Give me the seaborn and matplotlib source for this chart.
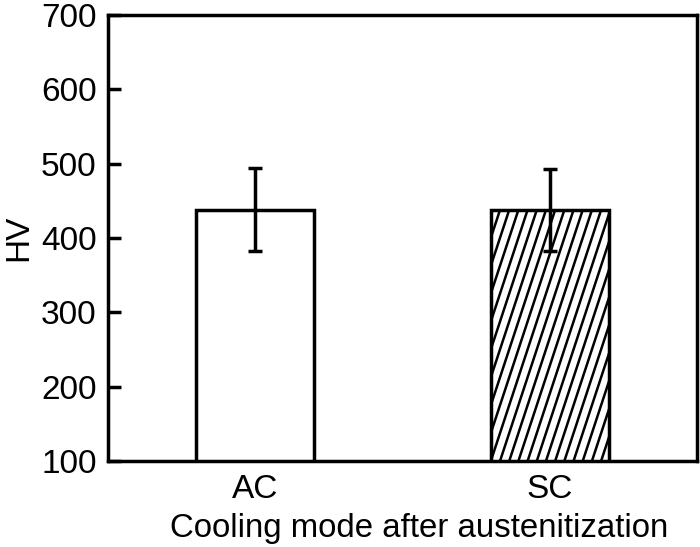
import numpy as np
import pandas as pd
import seaborn as sns
import matplotlib.pyplot as plt

# datos del grafico
modes = ['AC', 'SC']
hv = [438, 438]
hv_err = [56, 55]

df = pd.DataFrame({'mode': modes, 'HV': hv})

sns.set_theme(style='ticks')
plt.rcParams['font.family'] = ['Liberation Sans', 'DejaVu Sans']

fig = plt.figure(figsize=(7, 5.47), dpi=100)
ax = fig.add_axes([0.154, 0.157, 0.842, 0.816])

sns.barplot(data=df, x='mode', y='HV', order=modes, color='white',
            edgecolor='black', linewidth=2.5, width=0.4, errorbar=None, ax=ax)

ax.errorbar(x=np.arange(len(modes)), y=hv, yerr=hv_err, fmt='none',
            ecolor='black', elinewidth=2.5, capsize=5, capthick=2.5, zorder=5)

ax.set_xlim(-0.5, 1.5)
ax.set_ylim(100, 700)
ax.set_yticks(range(100, 701, 100))

# rayado inclinado en la barra SC (recortado al rectangulo)
bar = ax.patches[1]
x0, w, h = bar.get_x(), bar.get_width(), bar.get_height()
px_x = 295.0      # pixeles por unidad de categoria
px_y = 446.0 / 600  # pixeles por unidad HV
slope = 0.33       # dx/dy en pixeles
spacing = 9.2 / px_x
y_lo, y_hi = 100, h
shift = slope * (y_hi - y_lo) * px_y / px_x
for xs in np.arange(x0 - shift, x0 + w + spacing, spacing):
    ln, = ax.plot([xs, xs + shift], [y_lo, y_hi], color='black', lw=1.8,
                  solid_capstyle='butt', zorder=3)
    ln.set_clip_path(bar)

for s in ax.spines.values():
    s.set_linewidth(2.5)
    s.set_color('black')
    s.set_visible(True)

fs = 24
ax.tick_params(axis='y', direction='in', length=9, width=2.5, labelsize=fs,
               colors='black', pad=8)
ax.tick_params(axis='x', length=0, labelsize=fs, colors='black', pad=9)
ax.set_xlabel('Cooling mode after austenitization', fontsize=23.8, labelpad=6, color='black')
ax.xaxis.label.set_x(0.528)
ax.set_ylabel('HV', fontsize=fs, labelpad=5, color='black')

fig.savefig('out.png', dpi=100)
